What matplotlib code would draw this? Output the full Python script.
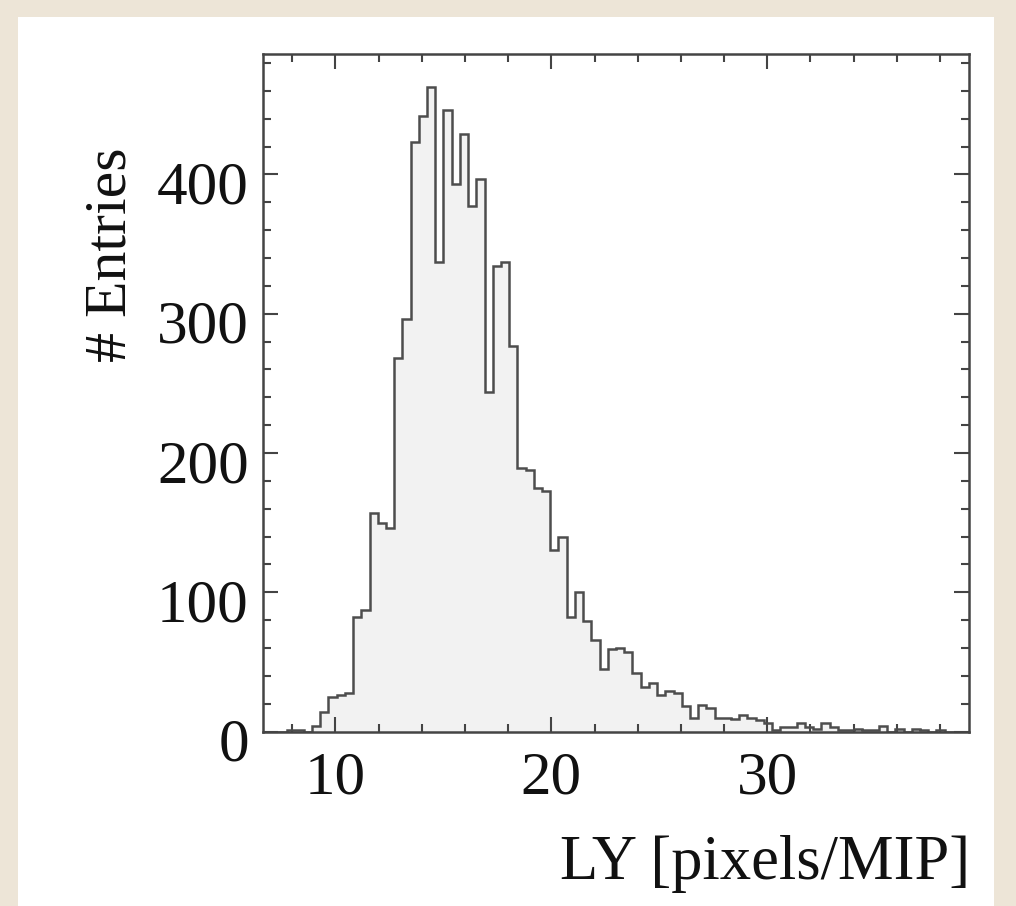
import numpy as np
import matplotlib
matplotlib.use("Agg")
import matplotlib.pyplot as plt
from matplotlib.patches import Rectangle
from matplotlib.ticker import MultipleLocator
from matplotlib.transforms import ScaledTranslation

# histogram range and bin contents (86 bins)
x_min = 6.63
x_max = 39.36
counts = [
    0, 0, 0, 1, 1, 0, 4, 14, 25, 26,
    28, 82, 87, 157, 150, 146, 268, 296, 423, 442,
    463, 337, 446, 393, 429, 377, 397, 244, 334, 337,
    277, 189, 188, 175, 173, 130, 140, 82, 100, 79,
    66, 45, 59, 60, 57, 42, 32, 35, 26, 29,
    28, 18, 10, 19, 17, 10, 10, 9, 12, 10,
    8, 6, 1, 3, 3, 6, 3, 2, 6, 3,
    1, 1, 2, 1, 1, 4, 0, 2, 0, 2,
    1, 0, 1, 0, 0, 0,
]
stat_names = ["Entries", "Mean", "RMS"]
stat_values = ["8096", "16.62", "3.634"]
x_label = "LY [pixels/MIP]"
y_label = "# Entries"

edges = np.linspace(x_min, x_max, len(counts) + 1)

plt.rcParams["font.family"] = ["Liberation Serif", "DejaVu Serif"]

W, H = 1016, 906
fig = plt.figure(figsize=(W / 100, H / 100), dpi=100)
fig.patch.set_facecolor("#ede5d7")
# white page area
fig.patches.append(Rectangle((18 / W, 0), (994 - 18) / W, (H - 17) / H,
                             transform=fig.transFigure, facecolor="white",
                             edgecolor="none", zorder=-10))

ax = fig.add_axes([262.7 / W, 1 - 731.5 / H, (969.3 - 262.7) / W, (731.5 - 54) / H])
ax.set_zorder(5)
ax.set_facecolor("white")

ax.stairs(counts, edges, fill=True, color="#f2f2f2", zorder=1)
ax.stairs(counts, edges, baseline=0, color="#4d4d4d", linewidth=1.8, zorder=2)

ax.set_xlim(x_min, x_max)
ax.set_ylim(0, 486.5)

ax.xaxis.set_major_locator(MultipleLocator(10))
ax.xaxis.set_minor_locator(MultipleLocator(2))
ax.yaxis.set_major_locator(MultipleLocator(100))
ax.yaxis.set_minor_locator(MultipleLocator(20))

for s in ax.spines.values():
    s.set_color("#444444")
    s.set_linewidth(1.8)

ax.tick_params(which="both", direction="in", top=True, right=True,
               color="#444444", width=1.5, labelsize=44, labelcolor="#111111")
ax.tick_params(which="major", length=10.5)
ax.tick_params(which="minor", length=5.5)
ax.tick_params(axis="x", pad=14)
ax.tick_params(axis="y", pad=10)

# ROOT-style: y labels sit a little below their ticks
off = ScaledTranslation(0, -8 / 100, fig.dpi_scale_trans)
for lab in ax.get_yticklabels():
    lab.set_transform(lab.get_transform() + off)

fig.text(970 / W, 1 - 864 / H, x_label, ha="right", va="center",
         fontsize=45, color="#111111")
fig.text(112 / W, 1 - 255 / H, y_label, ha="center", va="center",
         rotation=90, fontsize=43, color="#111111")

# statistics box (no frame)
row_y = [101, 158, 215]
for name, val, yy in zip(stat_names, stat_values, row_y):
    fig.text(682 / W, 1 - yy / H, name, ha="left", va="center",
             fontsize=30, color="#111111")
    fig.text(952 / W, 1 - yy / H, val, ha="right", va="center",
             fontsize=30, color="#111111")

fig.savefig("out.png", dpi=100, facecolor=fig.get_facecolor())
